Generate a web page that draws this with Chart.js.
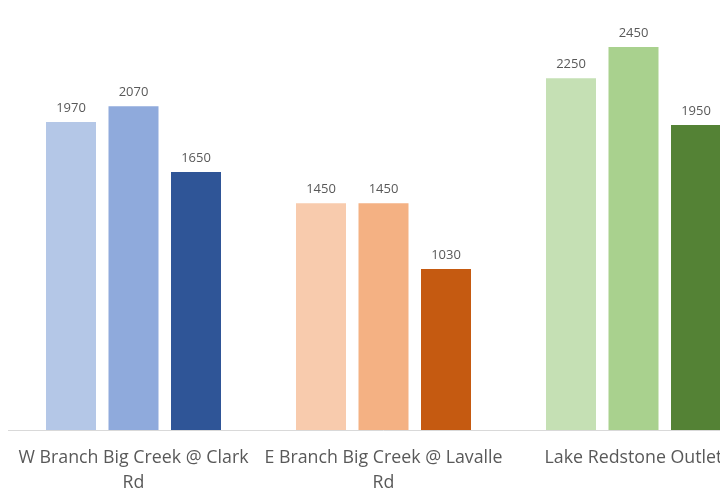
<!DOCTYPE html>
<html>
<head>
<meta charset="utf-8">
<script src="https://cdn.jsdelivr.net/npm/chart.js@4/dist/chart.umd.min.js"></script>
<style>
  html, body { margin: 0; padding: 0; background: #ffffff; overflow: hidden; }
  #wrap { width: 720px; height: 489px; overflow: hidden; position: relative; }
  canvas { display: block; }
</style>
</head>
<body>
<div id="wrap"><canvas id="c" width="770" height="489"></canvas></div>
<script>
// Sampling sites (x-axis categories)
const sites = [
  ["W Branch Big Creek @ Clark", "Rd"],
  ["E Branch Big Creek @ Lavalle", "Rd"],
  "Lake Redstone Outlet"
];

// Three readings per site
const readingA = [1970, 1450, 2250];
const readingB = [2070, 1450, 2450];
const readingC = [1650, 1030, 1950];

// Each site keeps its own colour family, light to dark
const lightShades = ["#B4C7E7", "#F8CBAD", "#C5E0B4"];
const midShades   = ["#8FAADC", "#F4B183", "#A9D18E"];
const darkShades  = ["#2F5597", "#C55A11", "#548235"];

// Writes each bar's value just above it
const valueLabels = {
  id: "valueLabels",
  afterDatasetsDraw(chart) {
    const ctx = chart.ctx;
    ctx.save();
    ctx.font = "13px 'Open Sans'";
    ctx.fillStyle = "#595959";
    ctx.textAlign = "center";
    ctx.textBaseline = "alphabetic";
    chart.data.datasets.forEach((ds, i) => {
      chart.getDatasetMeta(i).data.forEach((bar, j) => {
        ctx.fillText(String(ds.data[j]), bar.x, bar.y - 10);
      });
    });
    ctx.restore();
  }
};

new Chart(document.getElementById("c"), {
  type: "bar",
  data: {
    labels: sites,
    datasets: [
      { data: readingA, backgroundColor: lightShades },
      { data: readingB, backgroundColor: midShades },
      { data: readingC, backgroundColor: darkShades }
    ]
  },
  options: {
    responsive: false,
    animation: false,
    layout: { padding: { left: 8.5, right: 11.5, top: 0, bottom: 0 } },
    datasets: {
      bar: { categoryPercentage: 0.75, barPercentage: 0.8, borderWidth: 0 }
    },
    plugins: {
      legend: { display: false },
      tooltip: { enabled: false }
    },
    scales: {
      x: {
        grid: { display: false, drawTicks: false },
        border: { display: true, color: "#D9D9D9", width: 1 },
        ticks: {
          color: "#595959",
          font: { family: "'Open Sans'", size: 17.8, lineHeight: "25px" },
          padding: 15,
          autoSkip: false,
          maxRotation: 0,
          minRotation: 0
        },
        afterFit(scale) { scale.height = 59; }
      },
      y: {
        display: false,
        min: 0,
        max: 2750
      }
    }
  },
  plugins: [valueLabels]
});
</script>
</body>
</html>
